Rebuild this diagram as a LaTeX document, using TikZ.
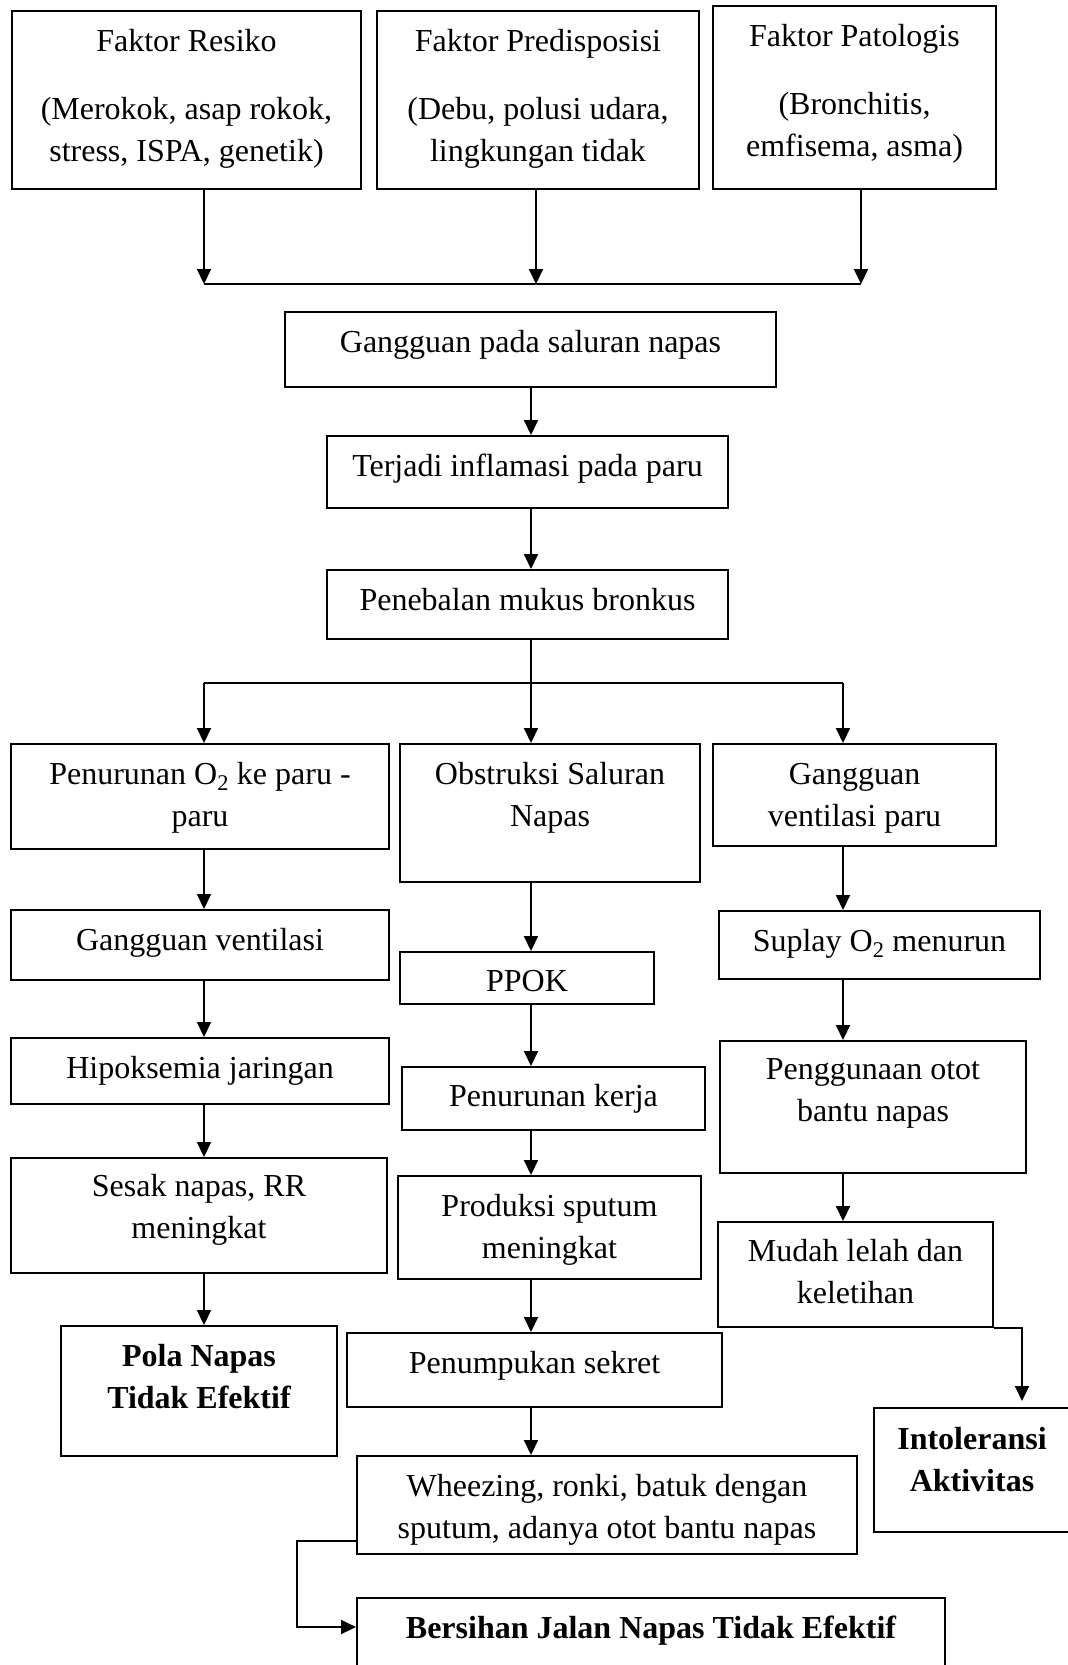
\documentclass[tikz,border=0pt]{standalone}
\usepackage{fontspec}
\setmainfont{Liberation Serif}
\usetikzlibrary{arrows.meta}

\begin{document}
\begin{tikzpicture}[x=1pt, y=-1pt,
    box/.style   = {draw, line width=2pt, anchor=north west, inner sep=0pt,
                    align=flush center, text height=40pt,
                    font=\fontsize{32}{42.5}\selectfont},
    result/.style= {box, font=\fontsize{32}{42.5}\selectfont\bfseries},
    arrow/.style = {-{Triangle[length=15pt, width=14pt]}, line width=2pt},
    line/.style  = {line width=2pt}
  ]
  \useasboundingbox (0,0) rectangle (1068,1665);

  % faktor
  \node[box, text width=349pt, text depth=138pt] (resiko) at (11,10)
    {Faktor Resiko\\[25.5pt] (Merokok, asap rokok,\\ stress, ISPA, genetik)};
  \node[box, text width=322pt, text depth=138pt] (predis) at (376,10)
    {Faktor Predisposisi\\[25.5pt] (Debu, polusi udara,\\ lingkungan tidak};
  \node[box, text width=283pt, text depth=143pt] (patologis) at (712,5)
    {Faktor Patologis\\[25.5pt] (Bronchitis,\\ emfisema, asma)};

  \coordinate (joinL) at (204,284);
  \coordinate (joinM) at (536,284);
  \coordinate (joinR) at (861,284);

  \node[box, text width=491pt, text depth=35pt] (gangguan) at (284,311)
    {Gangguan pada saluran napas};
  \node[box, text width=401pt, text depth=32pt] (inflamasi) at (326,435)
    {Terjadi inflamasi pada paru};
  \node[box, text width=401pt, text depth=29pt] (mukus) at (326,569)
    {Penebalan mukus bronkus};

  \coordinate (splitL) at (204,683);
  \coordinate (splitM) at (531,683);
  \coordinate (splitR) at (843,683);

  % kolom kiri
  \node[box, text width=378pt, text depth=65pt] (penurunan) at (10,743)
    {Penurunan O\textsubscript{2} ke paru -\\ paru};
  \node[box, text width=378pt, text depth=30pt] (ventilasi) at (10,909)
    {Gangguan ventilasi};
  \node[box, text width=378pt, text depth=26pt] (hipoksemia) at (10,1037)
    {Hipoksemia jaringan};
  \node[box, text width=376pt, text depth=77pt, text height=38pt] (sesak) at (10,1157)
    {Sesak napas, RR\\ meningkat};
  \node[result, text width=276pt, text depth=90pt] (pola) at (60,1325)
    {Pola Napas\\ Tidak Efektif};

  % kolom tengah
  \node[box, text width=300pt, text depth=98pt] (obstruksi) at (399,743)
    {Obstruksi Saluran\\ Napas};
  \node[box, text width=254pt, text depth=13pt, text height=39pt] (ppok) at (399,951)
    {PPOK};
  \node[box, text width=303pt, text depth=24pt, text height=39pt] (kerja) at (401,1066)
    {Penurunan kerja};
  \node[box, text width=303pt, text depth=63pt] (sputum) at (397,1175)
    {Produksi sputum\\ meningkat};
  \node[box, text width=375pt, text depth=34pt] (sekret) at (346,1332)
    {Penumpukan sekret};
  \node[box, text width=500pt, text depth=58pt] (wheezing) at (356,1455)
    {Wheezing, ronki, batuk dengan\\ sputum, adanya otot bantu napas};
  \node[result, text width=588pt, text depth=63pt] (bersihan) at (356,1597)
    {Bersihan Jalan Napas Tidak Efektif};

  % kolom kanan
  \node[box, text width=283pt, text depth=62pt] (ventparu) at (712,743)
    {Gangguan\\ ventilasi paru};
  \node[box, text width=321pt, text depth=28pt] (suplay) at (718,910)
    {Suplay O\textsubscript{2} menurun};
  \node[box, text width=306pt, text depth=94pt, text height=38pt] (otot) at (719,1040)
    {Penggunaan otot\\ bantu napas};
  \node[box, text width=275pt, text depth=66pt, text height=39pt] (lelah) at (717,1221)
    {Mudah lelah dan\\ keletihan};
  \node[result, text width=196pt, text depth=83pt, text height=41pt] (intoleransi) at (873,1407)
    {Intoleransi\\ Aktivitas};

  % panah
  \draw[arrow] (resiko.south -| joinL) -- (joinL);
  \draw[arrow] (predis.south -| joinM) -- (joinM);
  \draw[arrow] (patologis.south -| joinR) -- (joinR);
  \draw[line] (joinL) -- (joinR);

  \draw[arrow] (gangguan.south -| splitM) -- (inflamasi.north -| splitM);
  \draw[arrow] (inflamasi.south -| splitM) -- (mukus.north -| splitM);
  \draw[line] (mukus.south -| splitM) -- (splitM);
  \draw[line] (splitL) -- (splitR);
  \draw[arrow] (splitL) -- (penurunan.north -| splitL);
  \draw[arrow] (splitM) -- (obstruksi.north -| splitM);
  \draw[arrow] (splitR) -- (ventparu.north -| splitR);

  \draw[arrow] (penurunan.south -| splitL) -- (ventilasi.north -| splitL);
  \draw[arrow] (ventilasi.south -| splitL) -- (hipoksemia.north -| splitL);
  \draw[arrow] (hipoksemia.south -| splitL) -- (sesak.north -| splitL);
  \draw[arrow] (sesak.south -| splitL) -- (pola.north -| splitL);

  \draw[arrow] (obstruksi.south -| splitM) -- (ppok.north -| splitM);
  \draw[arrow] (ppok.south -| splitM) -- (kerja.north -| splitM);
  \draw[arrow] (kerja.south -| splitM) -- (sputum.north -| splitM);
  \draw[arrow] (sputum.south -| splitM) -- (sekret.north -| splitM);
  \draw[arrow] (sekret.south -| splitM) -- (wheezing.north -| splitM);
  \draw[arrow] ([yshift=14pt]wheezing.south west) -- ++(-59,0)
    |- ([yshift=-30pt]bersihan.north west);

  \draw[arrow] (ventparu.south -| splitR) -- (suplay.north -| splitR);
  \draw[arrow] (suplay.south -| splitR) -- (otot.north -| splitR);
  \draw[arrow] (otot.south -| splitR) -- (lelah.north -| splitR);
  \draw[arrow] (lelah.south east) -| ([xshift=50pt, yshift=6pt]intoleransi.north);
\end{tikzpicture}
\end{document}
